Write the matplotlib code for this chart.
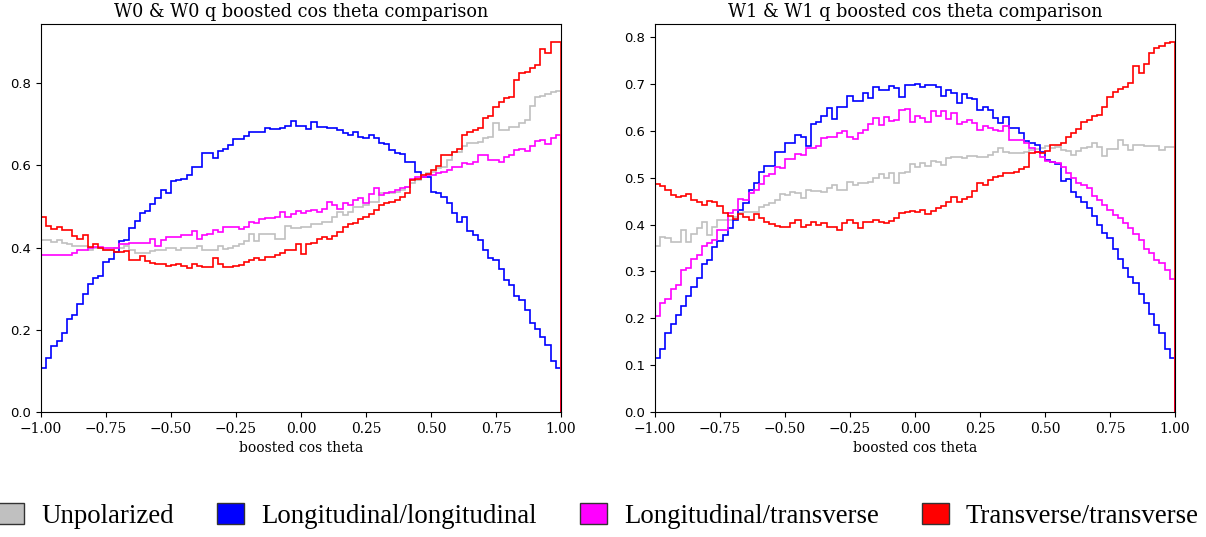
import numpy as np
import matplotlib
matplotlib.use('Agg')
import matplotlib.pyplot as plt
from matplotlib.patches import Patch

# ---------------- data ----------------
edges = np.linspace(-1.0, 1.0, 101)

series_names = ["Unpolarized", "Longitudinal/longitudinal",
                "Longitudinal/transverse", "Transverse/transverse"]
series_colors = ["#c0c0c0", "#0000ff", "#ff00ff", "#ff0000"]
titles = ["W0 & W0 q boosted cos theta comparison",
          "W1 & W1 q boosted cos theta comparison"]

# W0 panel
w0_unpol = [0.419,0.419,0.414,0.419,0.412,0.408,0.405,0.404,0.404,0.395,
            0.400,0.400,0.394,0.394,0.398,0.400,0.404,0.394,0.387,0.386,
            0.387,0.391,0.394,0.394,0.398,0.398,0.393,0.398,0.398,0.398,
            0.404,0.394,0.394,0.394,0.404,0.396,0.398,0.404,0.409,0.417,
            0.432,0.415,0.434,0.434,0.434,0.422,0.422,0.452,0.447,0.447,
            0.451,0.451,0.457,0.457,0.463,0.463,0.475,0.487,0.479,0.487,
            0.499,0.499,0.503,0.512,0.512,0.532,0.532,0.532,0.536,0.540,
            0.548,0.556,0.564,0.572,0.581,0.585,0.593,0.597,0.613,0.633,
            0.633,0.646,0.654,0.654,0.658,0.666,0.670,0.702,0.685,0.685,
            0.694,0.694,0.702,0.711,0.745,0.766,0.769,0.774,0.779,0.782]
w0_ll = [0.107,0.132,0.161,0.173,0.193,0.226,0.237,0.263,0.286,0.312,
         0.326,0.330,0.366,0.372,0.389,0.417,0.419,0.447,0.465,0.485,
         0.490,0.507,0.521,0.541,0.534,0.561,0.564,0.567,0.576,0.595,
         0.597,0.631,0.631,0.618,0.636,0.640,0.650,0.664,0.664,0.672,
         0.682,0.681,0.682,0.690,0.689,0.689,0.690,0.696,0.707,0.697,
         0.696,0.688,0.705,0.694,0.694,0.692,0.692,0.686,0.678,0.674,
         0.680,0.670,0.666,0.674,0.666,0.654,0.651,0.637,0.629,0.627,
         0.609,0.609,0.585,0.571,0.571,0.536,0.532,0.522,0.508,0.485,
         0.463,0.475,0.441,0.430,0.418,0.394,0.374,0.371,0.347,0.322,
         0.310,0.282,0.272,0.248,0.217,0.203,0.183,0.162,0.124,0.107]
w0_lt = [0.383,0.383,0.383,0.381,0.381,0.381,0.388,0.395,0.395,0.398,
         0.402,0.402,0.400,0.400,0.400,0.408,0.408,0.412,0.412,0.412,
         0.412,0.422,0.404,0.418,0.426,0.425,0.425,0.430,0.430,0.441,
         0.422,0.430,0.434,0.443,0.437,0.451,0.449,0.449,0.445,0.451,
         0.463,0.461,0.469,0.473,0.473,0.475,0.487,0.475,0.481,0.490,
         0.483,0.488,0.491,0.487,0.495,0.512,0.503,0.495,0.509,0.503,
         0.516,0.520,0.508,0.530,0.544,0.528,0.532,0.536,0.540,0.544,
         0.548,0.568,0.571,0.572,0.577,0.577,0.581,0.585,0.589,0.597,
         0.597,0.605,0.603,0.609,0.625,0.625,0.613,0.613,0.609,0.621,
         0.625,0.637,0.641,0.636,0.646,0.660,0.662,0.652,0.666,0.674]
w0_tt = [0.475,0.453,0.445,0.451,0.443,0.443,0.428,0.422,0.430,0.402,
         0.408,0.400,0.394,0.394,0.390,0.390,0.392,0.371,0.371,0.379,
         0.368,0.363,0.361,0.359,0.356,0.357,0.361,0.355,0.351,0.359,
         0.355,0.353,0.352,0.374,0.359,0.352,0.352,0.356,0.357,0.365,
         0.369,0.374,0.369,0.376,0.376,0.382,0.386,0.394,0.394,0.408,
         0.384,0.408,0.410,0.420,0.426,0.422,0.428,0.438,0.451,0.457,
         0.459,0.469,0.475,0.482,0.491,0.503,0.509,0.512,0.516,0.524,
         0.533,0.564,0.568,0.577,0.579,0.589,0.599,0.625,0.625,0.633,
         0.641,0.674,0.682,0.686,0.690,0.715,0.719,0.741,0.753,0.763,
         0.767,0.808,0.824,0.828,0.838,0.844,0.883,0.873,0.899,0.899]

# W1 panel
w1_unpol = [0.354,0.374,0.371,0.364,0.364,0.389,0.362,0.381,0.392,0.406,
            0.378,0.396,0.410,0.410,0.410,0.417,0.424,0.428,0.426,0.428,
            0.438,0.442,0.447,0.453,0.466,0.464,0.469,0.468,0.457,0.473,
            0.472,0.471,0.469,0.478,0.485,0.474,0.474,0.492,0.485,0.488,
            0.488,0.492,0.499,0.508,0.499,0.510,0.490,0.510,0.513,0.530,
            0.524,0.531,0.525,0.535,0.533,0.528,0.542,0.545,0.545,0.543,
            0.547,0.547,0.545,0.545,0.549,0.556,0.563,0.556,0.553,0.553,
            0.554,0.556,0.560,0.561,0.563,0.567,0.563,0.565,0.560,0.558,
            0.549,0.558,0.563,0.565,0.574,0.565,0.547,0.562,0.562,0.581,
            0.570,0.560,0.571,0.570,0.568,0.567,0.568,0.560,0.565,0.565]
w1_ll = [0.116,0.135,0.168,0.188,0.207,0.227,0.247,0.267,0.287,0.317,
         0.324,0.353,0.365,0.378,0.392,0.410,0.431,0.447,0.474,0.488,
         0.513,0.526,0.526,0.556,0.556,0.574,0.574,0.592,0.588,0.567,
         0.615,0.620,0.631,0.649,0.625,0.651,0.651,0.674,0.665,0.665,
         0.682,0.670,0.695,0.687,0.688,0.697,0.692,0.672,0.699,0.699,
         0.701,0.695,0.698,0.698,0.693,0.675,0.687,0.682,0.660,0.680,
         0.670,0.668,0.645,0.652,0.645,0.627,0.617,0.629,0.606,0.606,
         0.595,0.578,0.575,0.570,0.555,0.538,0.533,0.530,0.493,0.497,
         0.469,0.458,0.449,0.435,0.419,0.399,0.383,0.371,0.347,0.326,
         0.307,0.289,0.275,0.251,0.232,0.210,0.185,0.168,0.135,0.116]
w1_lt = [0.205,0.233,0.242,0.262,0.271,0.304,0.307,0.326,0.335,0.354,
         0.361,0.367,0.389,0.389,0.424,0.431,0.454,0.453,0.468,0.474,
         0.487,0.503,0.508,0.524,0.520,0.540,0.540,0.550,0.549,0.563,
         0.563,0.567,0.585,0.587,0.588,0.595,0.599,0.588,0.583,0.595,
         0.602,0.615,0.627,0.613,0.630,0.622,0.624,0.644,0.646,0.620,
         0.631,0.627,0.620,0.642,0.631,0.642,0.626,0.638,0.615,0.620,
         0.624,0.617,0.602,0.610,0.606,0.602,0.599,0.610,0.580,0.581,
         0.580,0.574,0.563,0.556,0.545,0.535,0.533,0.531,0.524,0.511,
         0.499,0.488,0.485,0.478,0.461,0.453,0.442,0.431,0.421,0.414,
         0.403,0.392,0.381,0.367,0.349,0.339,0.324,0.319,0.304,0.285]
w1_tt = [0.486,0.483,0.474,0.463,0.460,0.462,0.466,0.453,0.449,0.443,
         0.451,0.449,0.439,0.424,0.419,0.412,0.423,0.417,0.410,0.423,
         0.415,0.406,0.401,0.398,0.394,0.394,0.404,0.410,0.394,0.399,
         0.406,0.399,0.404,0.396,0.394,0.389,0.404,0.410,0.403,0.392,
         0.406,0.405,0.411,0.406,0.404,0.408,0.415,0.424,0.428,0.430,
         0.428,0.431,0.423,0.430,0.435,0.440,0.449,0.458,0.449,0.455,
         0.460,0.471,0.490,0.485,0.496,0.501,0.504,0.511,0.511,0.513,
         0.518,0.524,0.554,0.556,0.553,0.558,0.570,0.570,0.575,0.588,
         0.595,0.604,0.620,0.624,0.631,0.635,0.651,0.672,0.684,0.689,
         0.695,0.702,0.738,0.724,0.742,0.767,0.777,0.781,0.787,0.789]

panels = [[w0_unpol, w0_ll, w0_lt, w0_tt],
          [w1_unpol, w1_ll, w1_lt, w1_tt]]

# ---------------- figure ----------------
W, H = 1206, 537
fig = plt.figure(figsize=(W / 100, H / 100), dpi=100)
ax_rects = [[41 / W, 1 - 412 / H, 520 / W, 388 / H],
            [655 / W, 1 - 412 / H, 520 / W, 388 / H]]

centers = 0.5 * (edges[:-1] + edges[1:])
for rect, series, title in zip(ax_rects, panels, titles):
    ax = fig.add_axes(rect)
    for vals, color in zip(series, series_colors):
        ax.hist(centers, bins=edges, weights=vals, histtype='step',
                color=color, linewidth=1.2)
    ax.set_xlim(-1, 1)
    ax.set_title(title, fontsize=12.7, family='DejaVu Serif', pad=5)
    ax.set_xlabel('boosted cos theta', fontsize=10, family='DejaVu Serif')
    ax.tick_params(axis='x', labelsize=10, labelfontfamily='DejaVu Serif')
    ax.tick_params(axis='y', labelsize=9.5, labelfontfamily='DejaVu Sans')

handles = [Patch(facecolor=c, edgecolor='#333333', linewidth=1.0)
           for c in series_colors]
fig.legend(handles, series_names, loc='center',
           bbox_to_anchor=(0.496, 0.039), ncol=4, frameon=False,
           prop={'family': 'Liberation Serif', 'size': 19.4},
           handlelength=1.0, handleheight=0.8, handletextpad=0.62,
           columnspacing=1.62, borderpad=0)

fig.savefig('out.png', dpi=100)
